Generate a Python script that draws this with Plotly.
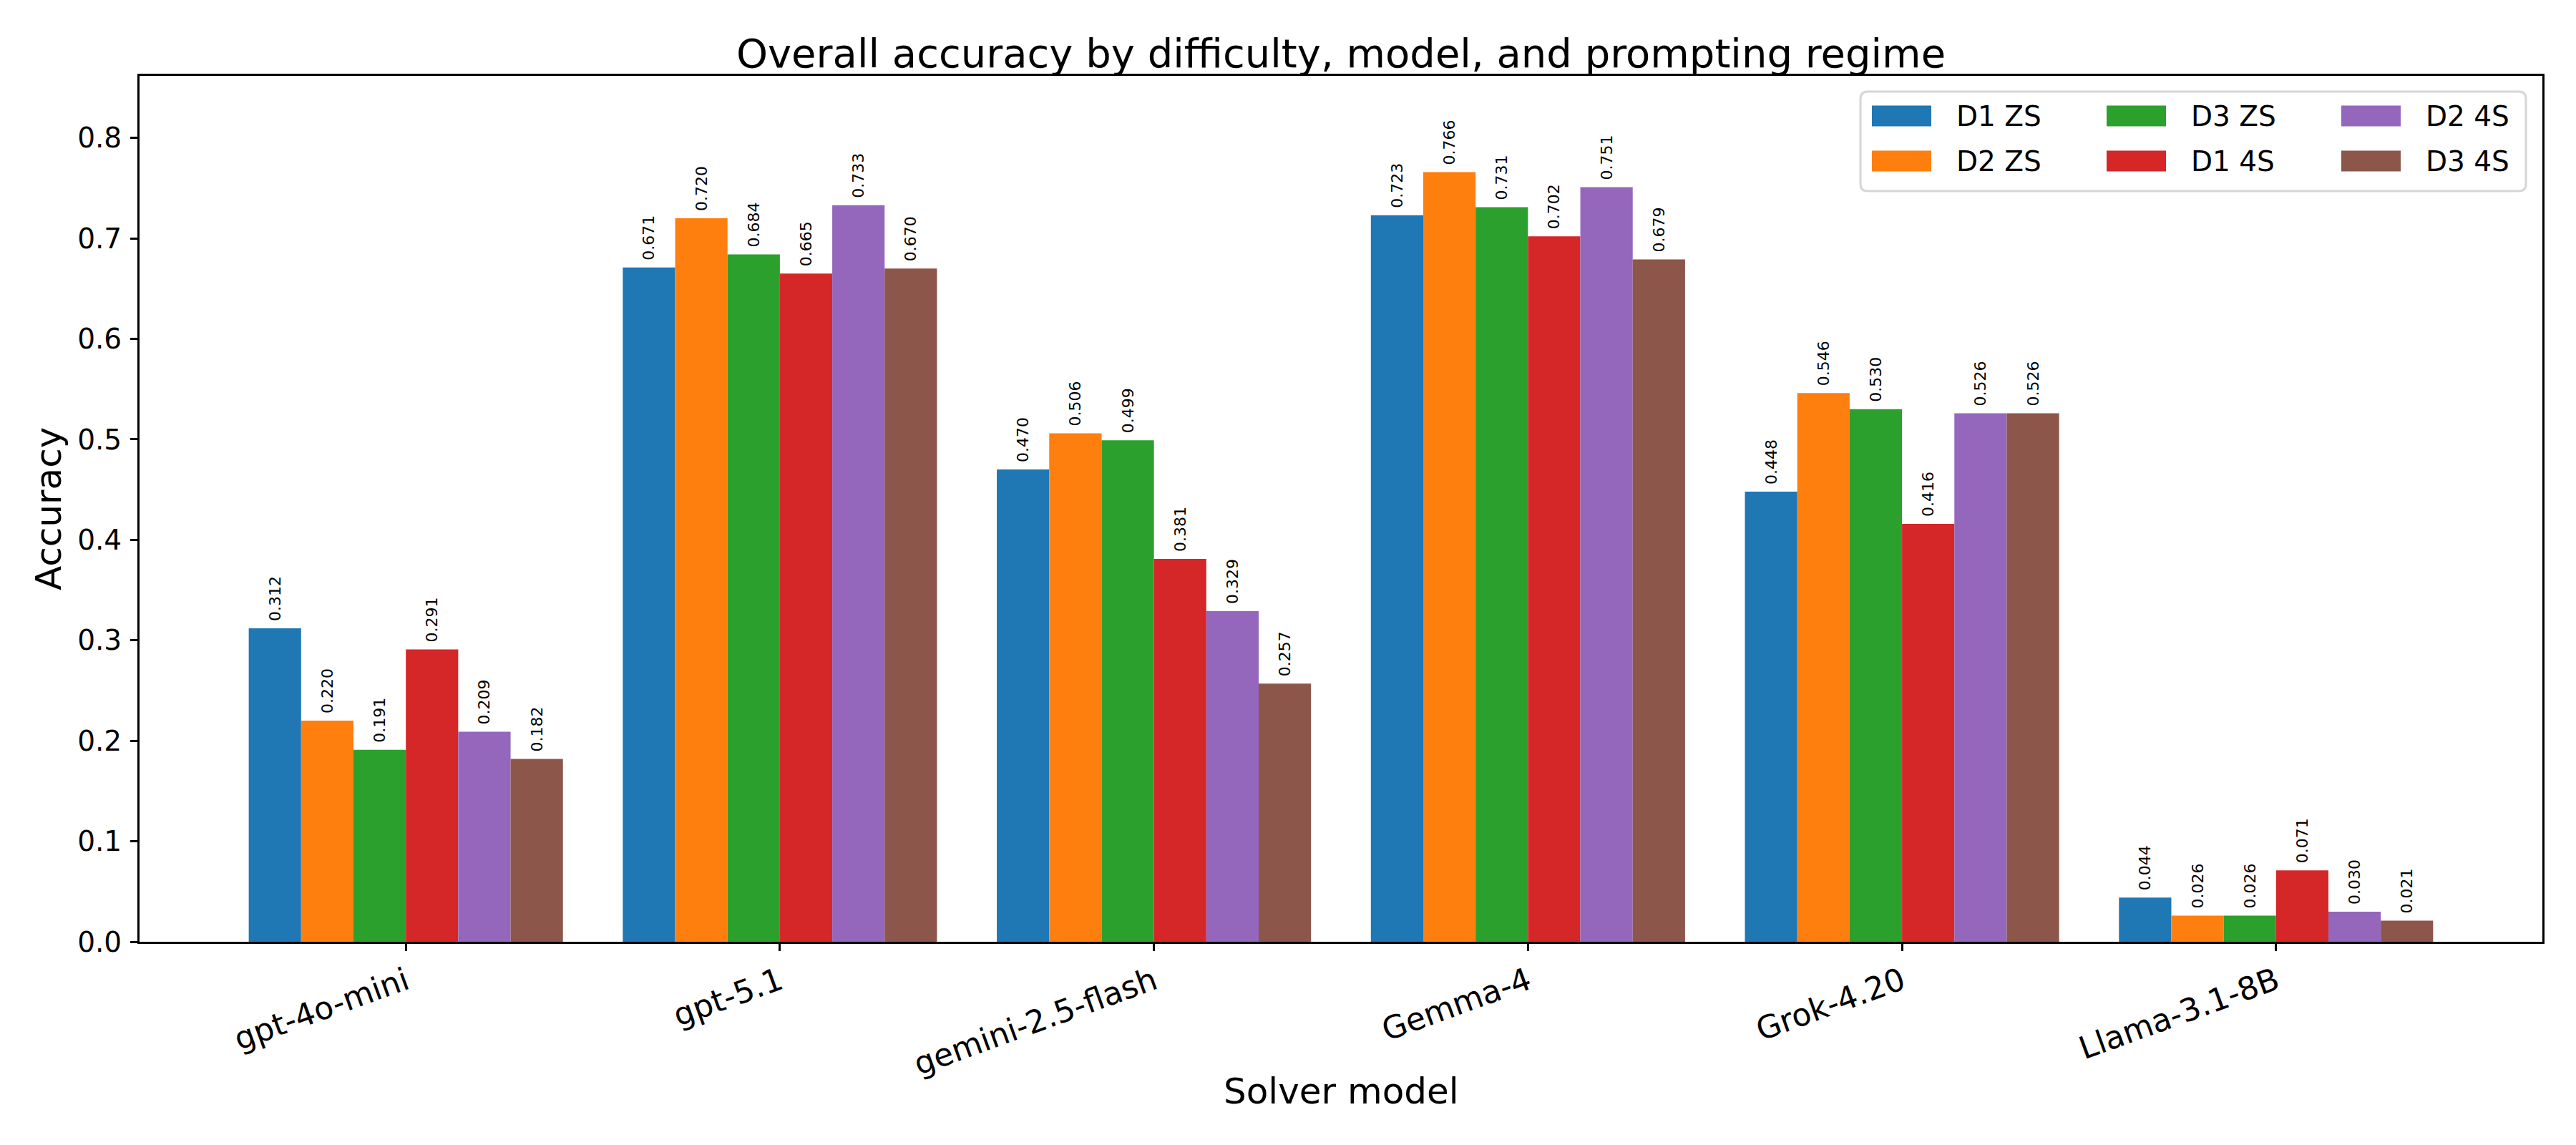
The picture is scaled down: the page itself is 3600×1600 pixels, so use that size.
import plotly.graph_objects as go

# ---- data ----
models = ["gpt-4o-mini", "gpt-5.1", "gemini-2.5-flash", "Gemma-4", "Grok-4.20", "Llama-3.1-8B"]
series_names = ["D1 ZS", "D2 ZS", "D3 ZS", "D1 4S", "D2 4S", "D3 4S"]
d1_zs = [0.312, 0.671, 0.470, 0.723, 0.448, 0.044]
d2_zs = [0.220, 0.720, 0.506, 0.766, 0.546, 0.026]
d3_zs = [0.191, 0.684, 0.499, 0.731, 0.530, 0.026]
d1_4s = [0.291, 0.665, 0.381, 0.702, 0.416, 0.071]
d2_4s = [0.209, 0.733, 0.329, 0.751, 0.526, 0.030]
d3_4s = [0.182, 0.670, 0.257, 0.679, 0.526, 0.021]
series_values = [d1_zs, d2_zs, d3_zs, d1_4s, d2_4s, d3_4s]
colors = ["#1f77b4", "#ff7f0e", "#2ca02c", "#d62728", "#9467bd", "#8c564b"]
y_ticks = [0.0, 0.1, 0.2, 0.3, 0.4, 0.5, 0.6, 0.7, 0.8]

FONT = "DejaVu Sans"
W, H = 3600, 1600
L, R, T, B = 195, 47, 106, 284
PW, PH = W - L - R, H - T - B
TICK_FS = 39
XTICK_FS = 44


def px_x(px):
    return (px - L) / PW


def px_y(py):
    return (H - B - py) / PH


fig = go.Figure()
for name, vals, col in zip(series_names, series_values, colors):
    fig.add_trace(go.Bar(
        x=models, y=vals, name=name, marker=dict(color=col, line=dict(width=0)),
        texttemplate="\u00a0%{y:.3f}", textposition="outside", textangle=-90,
        textfont=dict(family=FONT, size=22, color="black"),
        constraintext="none", cliponaxis=False, showlegend=False,
    ))

ymax = max(max(v) for v in series_values) * 1.125

fig.update_layout(
    width=W, height=H, margin=dict(l=L, r=R, t=T, b=B, autoexpand=False),
    paper_bgcolor="white", plot_bgcolor="white",
    barmode="group", bargap=0.16, bargroupgap=0,
    font=dict(family=FONT, size=TICK_FS, color="black"),
    title=dict(text="Overall accuracy by difficulty, model, and prompting regime",
               x=0.5, xref="paper", xanchor="center",
               y=1 - 74 / H, yref="container", yanchor="middle",
               font=dict(family=FONT, size=56, color="black")),
    xaxis=dict(type="category", range=[-0.712, 5.712], showline=True, mirror=True,
               linecolor="black", linewidth=3, ticks="outside", ticklen=10, tickwidth=3,
               tickcolor="black", tickangle=-20, showgrid=False, zeroline=False,
               tickfont=dict(family=FONT, size=XTICK_FS, color="black")),
    yaxis=dict(range=[0, ymax], tickvals=y_ticks, tickformat=".1f", showline=True, mirror=True,
               linecolor="black", linewidth=3, ticks="outside", ticklen=10, tickwidth=3,
               tickcolor="black", showgrid=False, zeroline=False, ticklabelstandoff=4,
               tickfont=dict(family=FONT, size=TICK_FS, color="black")),
)

# axis titles
fig.add_annotation(text="Solver model", xref="paper", yref="paper", x=0.5, y=px_y(1525),
                   xanchor="center", yanchor="middle", showarrow=False,
                   font=dict(family=FONT, size=50, color="black"))
fig.add_annotation(text="Accuracy", xref="paper", yref="paper", x=px_x(68), y=0.5,
                   xanchor="center", yanchor="middle", textangle=-90, showarrow=False,
                   font=dict(family=FONT, size=50, color="black"))

# legend (3 columns x 2 rows, column-major like matplotlib)
bx0, bx1, by0, by1 = 2600, 3530, 128, 267
rx, ry = 10 / PW, 10 / PH
x0, x1, y0, y1 = px_x(bx0), px_x(bx1), px_y(by1), px_y(by0)
path = (f"M {x0+rx},{y0} L {x1-rx},{y0} Q {x1},{y0} {x1},{y0+ry} L {x1},{y1-ry} "
        f"Q {x1},{y1} {x1-rx},{y1} L {x0+rx},{y1} Q {x0},{y1} {x0},{y1-ry} "
        f"L {x0},{y0+ry} Q {x0},{y0} {x0+rx},{y0} Z")
fig.add_shape(type="path", path=path, xref="paper", yref="paper",
              line=dict(color="#d6d6d6", width=3), fillcolor="rgba(255,255,255,0.8)")
col_x = [2616, 2944, 3272]
row_y = [162, 225]
sw_w, sw_h = 83, 29
for j, (name, col) in enumerate(zip(series_names, colors)):
    cx = col_x[j // 2]
    cy = row_y[j % 2]
    fig.add_shape(type="rect", xref="paper", yref="paper",
                  x0=px_x(cx), x1=px_x(cx + sw_w), y0=px_y(cy + sw_h / 2), y1=px_y(cy - sw_h / 2),
                  fillcolor=col, line=dict(width=0))
    fig.add_annotation(text=name, xref="paper", yref="paper", x=px_x(cx + sw_w + 33), y=px_y(cy),
                       xanchor="left", yanchor="middle", showarrow=False,
                       font=dict(family=FONT, size=TICK_FS, color="black"))

fig.write_html("out.html")
